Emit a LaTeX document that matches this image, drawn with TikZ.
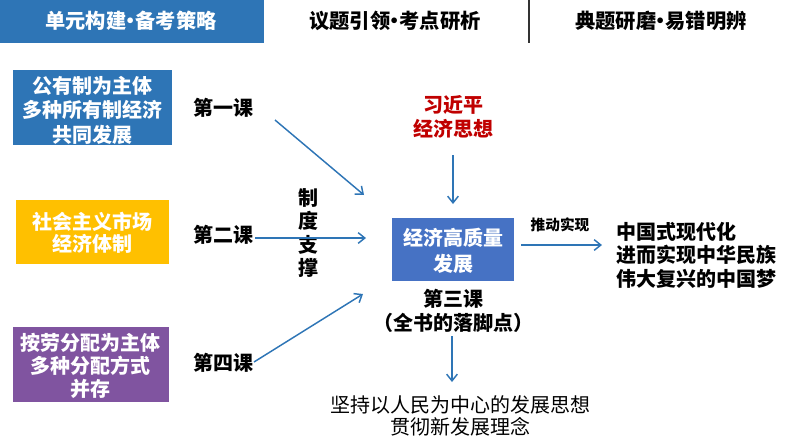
\documentclass[tikz,border=0pt]{standalone}
\usepackage{fontspec}
\newfontfamily\cjk{Noto Sans CJK SC}
\usetikzlibrary{arrows.meta}
\definecolor{hdrblue}{RGB}{46,117,182}
\definecolor{boxblue}{RGB}{46,117,182}
\definecolor{boxgold}{RGB}{255,192,0}
\definecolor{boxpurple}{RGB}{128,84,160}
\definecolor{boxcenter}{RGB}{70,114,196}
\definecolor{redtext}{RGB}{192,0,0}
\definecolor{arrowblue}{RGB}{46,117,182}
\newcommand{\hdot}{\makebox[0.45em]{·}}
\tikzset{
  every node/.style={font=\cjk, inner sep=0pt, outer sep=0pt},
  hdrtext/.style={font=\cjk\bfseries\fontsize{15.2}{17}\selectfont},
  boxtext/.style={font=\cjk\bfseries\fontsize{15}{#1}\selectfont, text=white, align=center},
  boxtext/.default={18},
  labeltext/.style={font=\cjk\bfseries\fontsize{15}{#1}\selectfont, text=black, align=center},
  labeltext/.default={18},
  conn/.style={draw=arrowblue, line width=1.1pt, -{Straight Barb[length=5pt,width=8pt,line width=1.1pt]}},
}
\begin{document}
\begin{tikzpicture}[x=0.75pt,y=-0.75pt]
\useasboundingbox (0,0) rectangle (794,447);
% header
\fill[hdrblue] (0,0) rectangle (264,43);
\node[hdrtext, text=white] (h1) at (131,21) {单元构建\hdot 备考策略};
\node[hdrtext] (h2) at (395,21) {议题引领\hdot 考点研析};
\node[hdrtext] (h3) at (661,21) {典题研磨\hdot 易错明辨};
\coordinate (sepT) at (529,0);
\coordinate (sepB) at (529,43);
\draw[line width=0.8pt, black!80] (sepT) -- (sepB);
% left boxes
\fill[boxblue] (13,70) rectangle (172,145);
\node[boxtext={18.4}] (b1) at (92,110) {公有制为主体\\多种所有制经济\\共同发展};
\fill[boxgold] (16,200) rectangle (169,264);
\node[boxtext={16.5}] (b2) at (92,233) {社会主义市场\\经济体制};
\fill[boxpurple] (13,327) rectangle (169,402);
\node[boxtext={17}] (b4) at (91,366) {按劳分配为主体\\多种分配方式\\并存};
% lesson labels
\node[labeltext] (l1) at (223,108) {第一课};
\node[labeltext] (l2) at (223,235) {第二课};
\node[labeltext] (l4) at (223,363) {第四课};
\node[labeltext={17.6}] (zd) at (308,233) {制\\度\\支\\撑};
% top red
\node[labeltext={18}, text=redtext] (xi) at (453,117) {习近平\\经济思想};
% center box
\fill[boxcenter] (392,218) rectangle (514,281);
\node[boxtext={19.5}] (c) at (453,251) {经济高质量\\发展};
\node[labeltext={18}] (l3) at (453,311) {第三课\\（全书的落脚点）};
% right
\node[font=\cjk\bfseries\fontsize{11}{13}\selectfont] (td) at (560,225) {推动实现};
\node[labeltext={17.6}, align=left, anchor=west] (goal) at (616,255) {中国式现代化\\进而实现中华民族\\伟大复兴的中国梦};
% bottom
\node[font=\cjk\fontsize{15}{16.5}\selectfont, align=center] (bt) at (460,416) {坚持以人民为中心的发展思想\\贯彻新发展理念};
% arrow coordinates
\coordinate (a1s) at (275,120); \coordinate (a1e) at (364,195);
\coordinate (a2s) at (255,238); \coordinate (a2e) at (366,238);
\coordinate (a4s) at (254,362); \coordinate (a4e) at (363,294);
\coordinate (axs) at (453,155); \coordinate (axe) at (453,204);
\coordinate (ars) at (521,245); \coordinate (are) at (602,245);
\coordinate (abs) at (452,336); \coordinate (abe) at (452,382);
\draw[conn] (a1s) -- (a1e);
\draw[conn] (a2s) -- (a2e);
\draw[conn] (a4s) -- (a4e);
\draw[conn] (axs) -- (axe);
\draw[conn] (ars) -- (are);
\draw[conn] (abs) -- (abe);
\end{tikzpicture}
\end{document}
